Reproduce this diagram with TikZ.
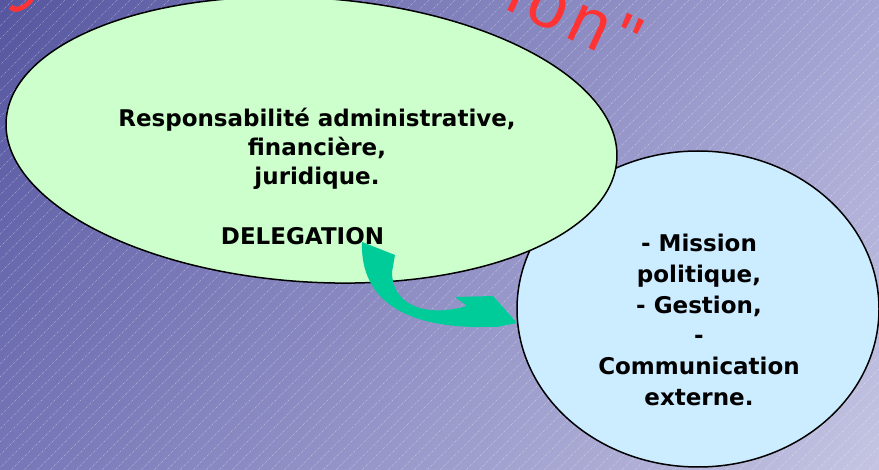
\documentclass[tikz,border=0pt]{standalone}
\usepackage{fontspec}
\setmainfont{DejaVu Sans}
\newfontfamily\titlefont{Liberation Sans}
\usetikzlibrary{positioning,shadings}
\definecolor{bgUL}{RGB}{86,86,160}
\definecolor{bgUR}{RGB}{165,165,212}
\definecolor{bgLL}{RGB}{118,118,184}
\definecolor{bgLR}{RGB}{196,196,226}
\definecolor{greenfill}{RGB}{204,255,204}
\definecolor{bluefill}{RGB}{204,236,255}
\definecolor{arrowteal}{RGB}{0,204,153}
\definecolor{titlered}{RGB}{255,51,51}

\begin{document}
\begin{tikzpicture}[x=1pt,y=-1pt,
  bubble/.style={draw=black, line width=1.5pt},
  bodytext/.style={font=\bfseries\fontsize{23}{29}\selectfont, align=center, inner sep=0pt},
  hatch/.style={white, opacity=0.45, line width=0.6pt, dash pattern=on 0.8pt off 1.2pt},
  redtitle/.style={text=titlered, font=\titlefont\fontsize{70}{70}\selectfont\addfontfeature{LetterSpace=9}, inner sep=0pt}]
\useasboundingbox (0,0) rectangle (879,470);
\clip (0,0) rectangle (879,470);
\shade[upper left=bgUL, upper right=bgUR, lower left=bgLL, lower right=bgLR] (0,0) rectangle (879,470);
\foreach \c in {0,13,...,1349}
  \draw[hatch] (\c,0) -- (\c-470,470);
\node[redtitle, rotate=35] (ttlleft) at (16,-8) {s};
\node[redtitle, rotate=-25, anchor=base west] (ttlright) at (503,8) {ion"};
\filldraw[bubble, fill=bluefill] (698,309) ellipse [x radius=181, y radius=158];
\filldraw[bubble, fill=greenfill, rotate around={-3.7:(311.5,140)}] (311.5,140) ellipse [x radius=306, y radius=142];
\node[bodytext] (resp) at (317,149) {Responsabilité administrative,\\financière,\\juridique.};
\node[bodytext, anchor=base] (deleg) at (302.5,245) {DELEGATION};
\node[bodytext, font=\bfseries\fontsize{23}{30.8}\selectfont] (mission) at (699,320) {- Mission\\politique,\\- Gestion,\\-\\Communication\\externe.};
\coordinate (tail) at (362,242);
\coordinate (tip) at (517,323);
\fill[arrowteal] (tail) .. controls (360,300) and (405,327) .. (480,327) -- (497,327) -- (tip) -- (493,296) -- (455,297) -- (467,306) .. controls (425,318) and (392,305) .. (392,272) -- (395,255) -- cycle;
\end{tikzpicture}
\end{document}
